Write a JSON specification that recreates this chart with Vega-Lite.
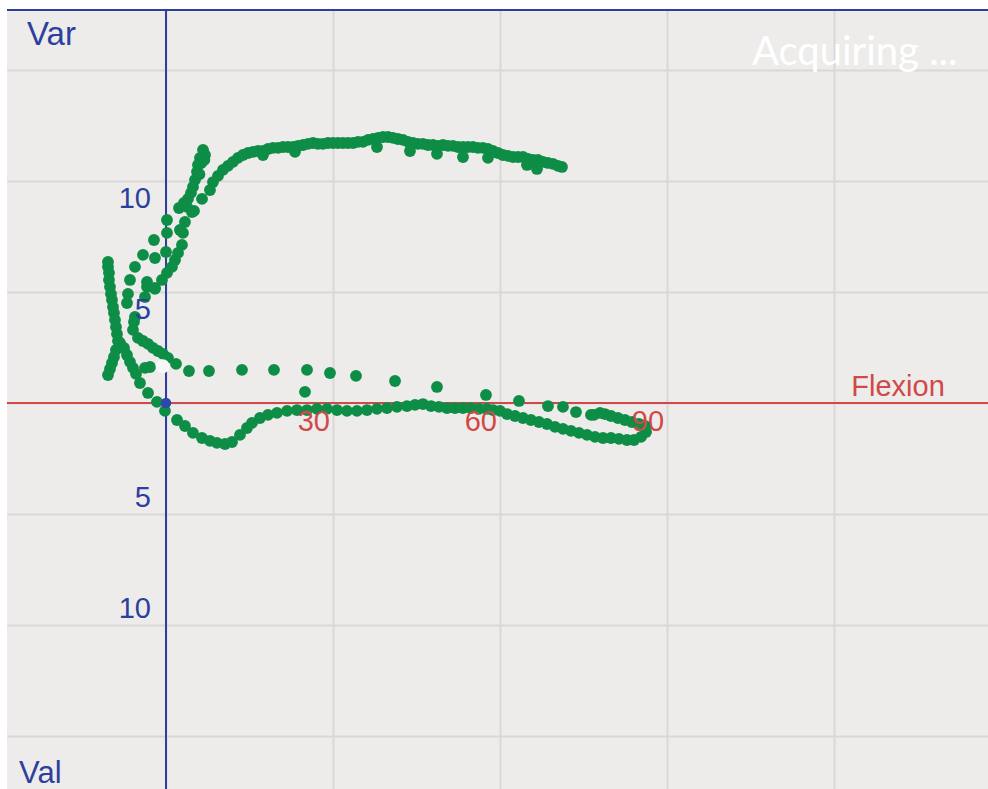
{
  "$schema": "https://vega.github.io/schema/vega-lite/v6.json",
  "width": 981,
  "height": 779,
  "padding": {"left": 7, "top": 10, "right": 0, "bottom": 0},
  "autosize": {"type": "none"},
  "background": "#ffffff",
  "config": {"view": {"fill": "#eeecea", "stroke": null}},
  "datasets": {
    "pts": [
      {"flex": 8.44, "varus": 9.95}, {"flex": 9.34, "varus": 10.23}, {"flex": 10.24, "varus": 10.5}, {"flex": 11.14, "varus": 10.68},
      {"flex": 12.04, "varus": 10.86}, {"flex": 12.93, "varus": 11.04}, {"flex": 13.83, "varus": 11.17}, {"flex": 14.73, "varus": 11.26},
      {"flex": 15.63, "varus": 11.31}, {"flex": 16.53, "varus": 11.35}, {"flex": 17.42, "varus": 11.35}, {"flex": 18.32, "varus": 11.44},
      {"flex": 19.22, "varus": 11.49}, {"flex": 20.12, "varus": 11.49}, {"flex": 21.02, "varus": 11.53}, {"flex": 21.91, "varus": 11.53},
      {"flex": 22.81, "varus": 11.53}, {"flex": 23.71, "varus": 11.58}, {"flex": 24.61, "varus": 11.62}, {"flex": 25.51, "varus": 11.67},
      {"flex": 26.41, "varus": 11.71}, {"flex": 27.3, "varus": 11.67}, {"flex": 28.2, "varus": 11.67}, {"flex": 29.1, "varus": 11.71},
      {"flex": 30.0, "varus": 11.71}, {"flex": 30.9, "varus": 11.71}, {"flex": 31.79, "varus": 11.71}, {"flex": 32.69, "varus": 11.71},
      {"flex": 33.59, "varus": 11.71}, {"flex": 34.49, "varus": 11.76}, {"flex": 35.39, "varus": 11.76}, {"flex": 36.28, "varus": 11.85},
      {"flex": 37.18, "varus": 11.89}, {"flex": 38.08, "varus": 11.94}, {"flex": 38.98, "varus": 11.98}, {"flex": 39.88, "varus": 11.98},
      {"flex": 40.78, "varus": 11.94}, {"flex": 41.67, "varus": 11.89}, {"flex": 42.57, "varus": 11.85}, {"flex": 43.47, "varus": 11.76},
      {"flex": 44.37, "varus": 11.71}, {"flex": 45.27, "varus": 11.67}, {"flex": 46.16, "varus": 11.67}, {"flex": 47.06, "varus": 11.62},
      {"flex": 47.96, "varus": 11.62}, {"flex": 48.86, "varus": 11.58}, {"flex": 49.76, "varus": 11.62}, {"flex": 50.66, "varus": 11.58},
      {"flex": 51.55, "varus": 11.58}, {"flex": 52.45, "varus": 11.53}, {"flex": 53.35, "varus": 11.53}, {"flex": 54.25, "varus": 11.53},
      {"flex": 55.15, "varus": 11.53}, {"flex": 56.04, "varus": 11.49}, {"flex": 56.94, "varus": 11.49}, {"flex": 57.84, "varus": 11.44},
      {"flex": 58.74, "varus": 11.35}, {"flex": 59.64, "varus": 11.26}, {"flex": 60.53, "varus": 11.17}, {"flex": 61.43, "varus": 11.13},
      {"flex": 62.33, "varus": 11.08}, {"flex": 63.23, "varus": 11.08}, {"flex": 64.13, "varus": 11.08}, {"flex": 65.03, "varus": 10.99},
      {"flex": 65.92, "varus": 10.95}, {"flex": 66.82, "varus": 10.95}, {"flex": 67.72, "varus": 10.86}, {"flex": 68.62, "varus": 10.81},
      {"flex": 69.52, "varus": 10.77}, {"flex": 70.41, "varus": 10.68}, {"flex": 71.13, "varus": 10.63},
      {"flex": 17.42, "varus": 11.17}, {"flex": 23.17, "varus": 11.31}, {"flex": 37.9, "varus": 11.53}, {"flex": 43.83, "varus": 11.35},
      {"flex": 48.68, "varus": 11.22}, {"flex": 53.35, "varus": 11.08}, {"flex": 57.84, "varus": 11.04}, {"flex": 64.85, "varus": 10.72},
      {"flex": 66.64, "varus": 10.54},
      {"flex": 7.9, "varus": 9.59}, {"flex": 6.47, "varus": 9.19}, {"flex": 4.67, "varus": 8.6}, {"flex": 3.41, "varus": 8.15},
      {"flex": 2.51, "varus": 7.79}, {"flex": 3.05, "varus": 7.66}, {"flex": 2.87, "varus": 7.12}, {"flex": 2.16, "varus": 6.76},
      {"flex": 1.62, "varus": 6.44}, {"flex": 1.08, "varus": 6.13}, {"flex": 0.18, "varus": 5.86}, {"flex": -0.72, "varus": 5.54},
      {"flex": -1.98, "varus": 5.18}, {"flex": -3.41, "varus": 5.23}, {"flex": -3.77, "varus": 4.77},
      {"flex": 6.65, "varus": 11.4}, {"flex": 7.01, "varus": 11.17}, {"flex": 6.11, "varus": 11.04}, {"flex": 5.75, "varus": 10.72},
      {"flex": 5.57, "varus": 10.41}, {"flex": 5.21, "varus": 10.05}, {"flex": 4.85, "varus": 9.73}, {"flex": 4.49, "varus": 9.46},
      {"flex": 3.95, "varus": 9.19}, {"flex": 3.23, "varus": 9.01}, {"flex": 2.34, "varus": 8.78}, {"flex": 3.77, "varus": 8.83},
      {"flex": 5.03, "varus": 8.65}, {"flex": 6.3, "varus": 10.8}, {"flex": 6.9, "varus": 10.95}, {"flex": 6.0, "varus": 10.3},
      {"flex": 0.18, "varus": 8.24}, {"flex": 0.18, "varus": 7.66}, {"flex": 0.0, "varus": 6.8}, {"flex": -2.16, "varus": 7.34},
      {"flex": -1.98, "varus": 6.53}, {"flex": -4.13, "varus": 6.67}, {"flex": -5.57, "varus": 6.13}, {"flex": -6.47, "varus": 5.54},
      {"flex": -6.83, "varus": 4.91}, {"flex": -3.41, "varus": 5.45}, {"flex": -7.01, "varus": 4.5}, {"flex": -1.98, "varus": 5.14},
      {"flex": -10.42, "varus": 6.35}, {"flex": -10.42, "varus": 6.13}, {"flex": -10.24, "varus": 5.86}, {"flex": -10.24, "varus": 5.54},
      {"flex": -10.06, "varus": 5.23}, {"flex": -9.88, "varus": 4.91}, {"flex": -9.7, "varus": 4.64}, {"flex": -9.52, "varus": 4.32},
      {"flex": -9.34, "varus": 4.05}, {"flex": -9.16, "varus": 3.74}, {"flex": -8.98, "varus": 3.42}, {"flex": -8.8, "varus": 3.11},
      {"flex": -8.62, "varus": 2.79}, {"flex": -8.98, "varus": 2.39}, {"flex": -9.34, "varus": 2.07}, {"flex": -9.7, "varus": 1.8},
      {"flex": -10.06, "varus": 1.53}, {"flex": -10.42, "varus": 1.26},
      {"flex": -5.93, "varus": 3.29}, {"flex": -5.03, "varus": 2.93}, {"flex": -4.13, "varus": 2.79}, {"flex": -3.23, "varus": 2.66},
      {"flex": -2.34, "varus": 2.48}, {"flex": -1.44, "varus": 2.34}, {"flex": -0.54, "varus": 2.21}, {"flex": 0.36, "varus": 2.03},
      {"flex": 1.8, "varus": 1.76}, {"flex": -5.57, "varus": 3.87}, {"flex": -5.75, "varus": 3.65},
      {"flex": -8.26, "varus": 2.7}, {"flex": -7.54, "varus": 2.48}, {"flex": -7.01, "varus": 2.16}, {"flex": -6.47, "varus": 1.85},
      {"flex": -5.93, "varus": 1.58}, {"flex": -5.39, "varus": 1.31}, {"flex": -4.67, "varus": 0.9}, {"flex": -3.23, "varus": 0.45},
      {"flex": -3.77, "varus": 1.58}, {"flex": -2.87, "varus": 1.62},
      {"flex": -1.62, "varus": 0.05}, {"flex": -0.18, "varus": -0.36}, {"flex": 1.98, "varus": -0.77}, {"flex": 3.41, "varus": -1.04},
      {"flex": 4.85, "varus": -1.35}, {"flex": 6.47, "varus": -1.58}, {"flex": 7.9, "varus": -1.71}, {"flex": 9.16, "varus": -1.8},
      {"flex": 10.6, "varus": -1.85}, {"flex": 11.86, "varus": -1.76}, {"flex": 13.29, "varus": -1.44}, {"flex": 14.55, "varus": -1.13},
      {"flex": 15.45, "varus": -0.9}, {"flex": 16.88, "varus": -0.68}, {"flex": 18.32, "varus": -0.54}, {"flex": 19.94, "varus": -0.45},
      {"flex": 21.74, "varus": -0.36}, {"flex": 23.53, "varus": -0.32}, {"flex": 25.33, "varus": -0.32}, {"flex": 27.12, "varus": -0.27},
      {"flex": 28.92, "varus": -0.27}, {"flex": 30.72, "varus": -0.32}, {"flex": 32.51, "varus": -0.36}, {"flex": 34.31, "varus": -0.36},
      {"flex": 36.11, "varus": -0.32}, {"flex": 37.9, "varus": -0.27}, {"flex": 39.7, "varus": -0.23}, {"flex": 41.49, "varus": -0.18},
      {"flex": 43.29, "varus": -0.14}, {"flex": 44.73, "varus": -0.09}, {"flex": 46.16, "varus": -0.05}, {"flex": 47.6, "varus": -0.14},
      {"flex": 49.04, "varus": -0.18}, {"flex": 50.48, "varus": -0.23}, {"flex": 51.91, "varus": -0.23}, {"flex": 53.35, "varus": -0.23},
      {"flex": 54.79, "varus": -0.23}, {"flex": 56.22, "varus": -0.27}, {"flex": 57.66, "varus": -0.27}, {"flex": 58.74, "varus": -0.32},
      {"flex": 60.0, "varus": -0.36}, {"flex": 61.26, "varus": -0.5}, {"flex": 62.69, "varus": -0.59}, {"flex": 64.13, "varus": -0.68},
      {"flex": 65.56, "varus": -0.77}, {"flex": 67.0, "varus": -0.86}, {"flex": 68.44, "varus": -0.95}, {"flex": 69.88, "varus": -1.08},
      {"flex": 71.31, "varus": -1.17}, {"flex": 72.75, "varus": -1.26}, {"flex": 74.19, "varus": -1.35}, {"flex": 75.63, "varus": -1.44},
      {"flex": 77.06, "varus": -1.53}, {"flex": 78.5, "varus": -1.58}, {"flex": 79.94, "varus": -1.58}, {"flex": 81.37, "varus": -1.62},
      {"flex": 82.81, "varus": -1.67}, {"flex": 84.07, "varus": -1.67}, {"flex": 85.33, "varus": -1.53}, {"flex": 86.23, "varus": -1.31},
      {"flex": 86.05, "varus": -1.04}, {"flex": 84.97, "varus": -0.95}, {"flex": 83.71, "varus": -0.86}, {"flex": 82.45, "varus": -0.77},
      {"flex": 81.19, "varus": -0.68}, {"flex": 79.94, "varus": -0.59}, {"flex": 78.86, "varus": -0.5}, {"flex": 77.96, "varus": -0.45},
      {"flex": 76.88, "varus": -0.54},
      {"flex": 4.13, "varus": 1.44}, {"flex": 7.72, "varus": 1.44}, {"flex": 13.65, "varus": 1.49}, {"flex": 19.4, "varus": 1.49},
      {"flex": 25.33, "varus": 1.49}, {"flex": 29.46, "varus": 1.35}, {"flex": 34.13, "varus": 1.22}, {"flex": 41.14, "varus": 0.99},
      {"flex": 48.68, "varus": 0.72}, {"flex": 57.48, "varus": 0.36}, {"flex": 63.41, "varus": 0.09}, {"flex": 68.62, "varus": -0.14},
      {"flex": 71.31, "varus": -0.18}, {"flex": 73.65, "varus": -0.41}, {"flex": 76.34, "varus": -0.54}, {"flex": 24.97, "varus": 0.5}
    ],
    "one": [{}],
    "xlabels": [{"flex": 30, "label": "30"}, {"flex": 60, "label": "60"}, {"flex": 90, "label": "90"}],
    "ylabelsPos": [{"varus": 10, "label": "10"}, {"varus": 5, "label": "5"}],
    "ylabelsNeg": [{"varus": -5, "label": "5"}, {"varus": -10, "label": "10"}]
  },
  "encoding": {
    "x": {"type": "quantitative", "scale": {"domain": [-28.56, 147.66], "nice": false, "zero": false}},
    "y": {"type": "quantitative", "scale": {"domain": [-17.39, 17.7], "nice": false, "zero": false}}
  },
  "layer": [
    {
      "data": {"name": "pts"},
      "mark": {"type": "point", "opacity": 0},
      "encoding": {
        "x": {"field": "flex", "type": "quantitative", "axis": {"values": [0, 30, 60, 90, 120], "grid": true, "gridColor": "#d9d8d6", "gridWidth": 2, "labels": false, "ticks": false, "domain": false, "title": null}},
        "y": {"field": "varus", "type": "quantitative", "axis": {"values": [-15, -10, -5, 0, 5, 10, 15], "grid": true, "gridColor": "#d9d8d6", "gridWidth": 2, "labels": false, "ticks": false, "domain": false, "title": null}}
      }
    },
    {
      "data": {"name": "one"},
      "mark": {"type": "rule", "color": "#d04848", "strokeWidth": 2},
      "encoding": {"y": {"datum": 0}}
    },
    {
      "data": {"name": "one"},
      "mark": {"type": "rule", "color": "#2c3f9e", "strokeWidth": 2},
      "encoding": {"x": {"datum": 0}}
    },
    {
      "data": {"name": "one"},
      "mark": {"type": "rule", "color": "#2c3f9e", "strokeWidth": 2},
      "encoding": {"y": {"datum": 17.7}}
    },
    {
      "data": {"name": "pts"},
      "mark": {"type": "circle", "color": "#0d8d45", "opacity": 1},
      "encoding": {
        "x": {"field": "flex", "type": "quantitative"},
        "y": {"field": "varus", "type": "quantitative"},
        "size": {"value": 140}
      }
    },
    {
      "data": {"name": "one"},
      "mark": {"type": "circle", "color": "#f8f7f7", "opacity": 1},
      "encoding": {"x": {"datum": -0.6}, "y": {"datum": 1.65}, "size": {"value": 200}}
    },
    {
      "data": {"name": "one"},
      "mark": {"type": "circle", "color": "#2d48a8", "opacity": 1},
      "encoding": {"x": {"datum": 0}, "y": {"datum": 0}, "size": {"value": 110}}
    },
    {
      "data": {"name": "xlabels"},
      "mark": {"type": "text", "align": "right", "baseline": "alphabetic", "dx": -3, "dy": 28, "font": "Liberation Sans", "fontSize": 29, "color": "#d04848"},
      "encoding": {"x": {"field": "flex", "type": "quantitative"}, "y": {"datum": 0}, "text": {"field": "label"}}
    },
    {
      "data": {"name": "ylabelsPos"},
      "mark": {"type": "text", "align": "right", "baseline": "alphabetic", "dx": -15, "dy": 27, "font": "Liberation Sans", "fontSize": 29, "color": "#2c3f9e"},
      "encoding": {"x": {"datum": 0}, "y": {"field": "varus", "type": "quantitative"}, "text": {"field": "label"}}
    },
    {
      "data": {"name": "ylabelsNeg"},
      "mark": {"type": "text", "align": "right", "baseline": "alphabetic", "dx": -15, "dy": -7, "font": "Liberation Sans", "fontSize": 29, "color": "#2c3f9e"},
      "encoding": {"x": {"datum": 0}, "y": {"field": "varus", "type": "quantitative"}, "text": {"field": "label"}}
    },
    {
      "data": {"name": "one"},
      "mark": {"type": "text", "align": "center", "baseline": "alphabetic", "dy": -7, "font": "Liberation Sans", "fontSize": 29, "color": "#d04848"},
      "encoding": {"x": {"datum": 131.5}, "y": {"datum": 0}, "text": {"value": "Flexion"}}
    },
    {
      "data": {"name": "one"},
      "mark": {"type": "text", "align": "left", "baseline": "alphabetic", "font": "Liberation Sans", "fontSize": 33, "color": "#2c3f9e"},
      "encoding": {"x": {"datum": -24.97}, "y": {"datum": 16.13}, "text": {"value": "Var"}}
    },
    {
      "data": {"name": "one"},
      "mark": {"type": "text", "align": "left", "baseline": "alphabetic", "font": "Liberation Sans", "fontSize": 31, "color": "#2c3f9e"},
      "encoding": {"x": {"datum": -26.4}, "y": {"datum": -17.12}, "text": {"value": "Val"}}
    },
    {
      "data": {"name": "one"},
      "mark": {"type": "text", "align": "left", "baseline": "alphabetic", "font": "Lato", "fontSize": 40, "color": "#ffffff"},
      "encoding": {"x": {"datum": 105.26}, "y": {"datum": 15.23}, "text": {"value": "Acquiring ..."}}
    }
  ]
}
